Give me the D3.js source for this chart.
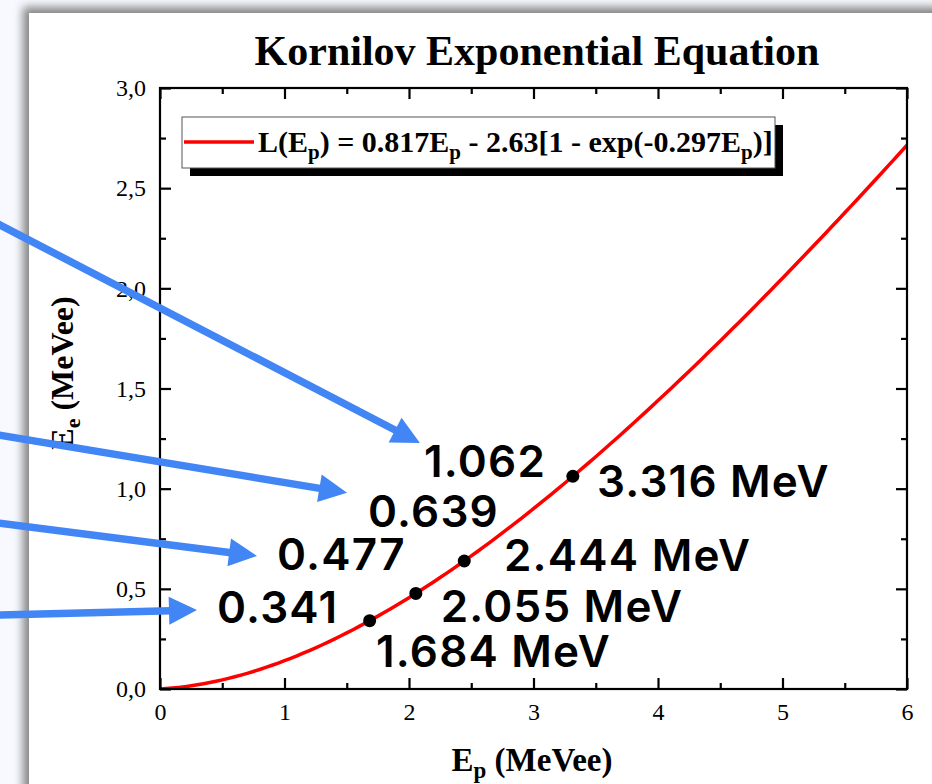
<!DOCTYPE html>
<html>
<head>
<meta charset="utf-8">
<script src="https://cdn.jsdelivr.net/npm/d3@7"></script>
<style>
  html, body { margin: 0; padding: 0; background: #f7f9fe; }
  svg { display: block; }
</style>
</head>
<body>
<svg id="chart" width="932" height="784"></svg>
<script>
// Fit coefficients of L(Ep) = a*Ep - b*[1 - exp(-c*Ep)]
const fitCoefficients = [0.817, 2.63, 0.297];
// Sample grid for the fitted curve (MeV)
const curveEnergies = d3.range(0, 6.0001, 0.05);

// Marked proton energies and the corresponding light output
const protonEnergies = [1.684, 2.055, 2.444, 3.316];
const lightOutputs = [0.341, 0.477, 0.639, 1.062];
const energyLabels = ["1.684 MeV", "2.055 MeV", "2.444 MeV", "3.316 MeV"];
const outputLabels = ["0.341", "0.477", "0.639", "1.062"];

// Annotation anchors, in axis units
const energyLabelAnchors = [[1.735, 0.110], [2.255, 0.334], [2.763, 0.589], [3.510, 0.959]];
const outputLabelAnchors = [[0.458, 0.330], [0.940, 0.594], [1.671, 0.809], [2.121, 1.058]];
const arrowStarts = [[-1.3, 0.369], [-1.3, 0.829], [-1.3, 1.268], [-1.3, 2.321]];
const arrowEnds = [[0.297, 0.394], [0.779, 0.664], [1.502, 0.979], [2.088, 1.228]];

// Axis ticks
const xMajorTicks = [0, 1, 2, 3, 4, 5, 6];
const xMinorTicks = [0.5, 1.5, 2.5, 3.5, 4.5, 5.5];
const yMajorTicks = [0, 0.5, 1.0, 1.5, 2.0, 2.5, 3.0];
const yMinorTicks = [0.25, 0.75, 1.25, 1.75, 2.25, 2.75];

const svg = d3.select("#chart");
const plot = { left: 160, right: 907, top: 88, bottom: 689 };

const x = d3.scaleLinear().domain([0, 6]).range([plot.left, plot.right]);
const y = d3.scaleLinear().domain([0, 3]).range([plot.bottom, plot.top]);

const serif = "'Liberation Serif', 'Times New Roman', serif";
const sans = "Inter, 'Noto Sans', sans-serif";

// ---- page panel with soft shadow ----
const defs = svg.append("defs");
const blur = defs.append("filter").attr("id", "panelShadow")
  .attr("x", "-10%").attr("y", "-10%").attr("width", "120%").attr("height", "120%");
blur.append("feGaussianBlur").attr("stdDeviation", 5);

svg.append("rect").attr("x", 23).attr("y", 7).attr("width", 1000).attr("height", 900)
  .attr("fill", "#858585").attr("filter", "url(#panelShadow)");
svg.append("rect").attr("x", 29).attr("y", 13).attr("width", 1000).attr("height", 900)
  .attr("fill", "#ffffff");

// ---- title ----
svg.append("text")
  .attr("x", 537).attr("y", 65)
  .attr("text-anchor", "middle")
  .attr("font-family", serif).attr("font-weight", "bold").attr("font-size", 42)
  .attr("fill", "#000")
  .text("Kornilov Exponential Equation");

// ---- fitted curve ----
const [a, b, c] = fitCoefficients;
const L = e => a * e - b * (1 - Math.exp(-c * e));
const line = d3.line().x(d => x(d)).y(d => y(L(d)));

const clip = defs.append("clipPath").attr("id", "plotClip");
clip.append("rect").attr("x", plot.left).attr("y", plot.top)
  .attr("width", plot.right - plot.left).attr("height", plot.bottom - plot.top);

svg.append("path")
  .datum(curveEnergies)
  .attr("clip-path", "url(#plotClip)")
  .attr("d", line)
  .attr("fill", "none")
  .attr("stroke", "#ff0000")
  .attr("stroke-width", 3.5);

// ---- axes (ticks pointing inward on all four sides) ----
const axisStroke = 2.2;
function styleAxis(g) {
  g.select(".domain").remove();
  g.selectAll(".tick line").attr("stroke", "#000").attr("stroke-width", axisStroke);
  g.selectAll(".tick text").attr("font-family", serif).attr("font-size", 24).attr("fill", "#000");
}
const fmtY = d => d3.format(".1f")(d).replace(".", ",");

svg.append("g").attr("transform", `translate(0,${plot.bottom})`)
  .call(d3.axisBottom(x).tickValues(xMajorTicks).tickSizeInner(-11).tickSizeOuter(0).tickPadding(14).tickFormat(d3.format("d")))
  .call(styleAxis);
svg.append("g").attr("transform", `translate(0,${plot.bottom})`)
  .call(d3.axisBottom(x).tickValues(xMinorTicks).tickSizeInner(-6).tickSizeOuter(0).tickFormat(""))
  .call(styleAxis);
svg.append("g").attr("transform", `translate(0,${plot.top})`)
  .call(d3.axisTop(x).tickValues(xMajorTicks).tickSizeInner(-11).tickSizeOuter(0).tickFormat(""))
  .call(styleAxis);
svg.append("g").attr("transform", `translate(0,${plot.top})`)
  .call(d3.axisTop(x).tickValues(xMinorTicks).tickSizeInner(-6).tickSizeOuter(0).tickFormat(""))
  .call(styleAxis);

svg.append("g").attr("transform", `translate(${plot.left},0)`)
  .call(d3.axisLeft(y).tickValues(yMajorTicks).tickSizeInner(-11).tickSizeOuter(0).tickPadding(14).tickFormat(fmtY))
  .call(styleAxis);
svg.append("g").attr("transform", `translate(${plot.left},0)`)
  .call(d3.axisLeft(y).tickValues(yMinorTicks).tickSizeInner(-6).tickSizeOuter(0).tickFormat(""))
  .call(styleAxis);
svg.append("g").attr("transform", `translate(${plot.right},0)`)
  .call(d3.axisRight(y).tickValues(yMajorTicks).tickSizeInner(-11).tickSizeOuter(0).tickFormat(""))
  .call(styleAxis);
svg.append("g").attr("transform", `translate(${plot.right},0)`)
  .call(d3.axisRight(y).tickValues(yMinorTicks).tickSizeInner(-6).tickSizeOuter(0).tickFormat(""))
  .call(styleAxis);

// plot frame
svg.append("rect")
  .attr("x", plot.left).attr("y", plot.top)
  .attr("width", plot.right - plot.left).attr("height", plot.bottom - plot.top)
  .attr("fill", "none").attr("stroke", "#000").attr("stroke-width", axisStroke);

// ---- axis titles ----
const xTitle = svg.append("text")
  .attr("x", 532).attr("y", 771)
  .attr("text-anchor", "middle")
  .attr("font-family", serif).attr("font-weight", "bold").attr("font-size", 33)
  .attr("fill", "#000");
xTitle.append("tspan").text("E");
xTitle.append("tspan").attr("font-size", 23).attr("dy", 7).text("p");
xTitle.append("tspan").attr("dy", -7).text(" (MeVee)");

const yTitle = svg.append("text")
  .attr("transform", "translate(73,373) rotate(-90)")
  .attr("text-anchor", "middle")
  .attr("font-family", serif).attr("font-weight", "bold").attr("font-size", 32)
  .attr("fill", "#000");
yTitle.append("tspan").text("E");
yTitle.append("tspan").attr("font-size", 22).attr("dy", 7).text("e");
yTitle.append("tspan").attr("dy", -7).text(" (MeVee)");

// ---- legend ----
const lg = { x: 182, y: 117, w: 593, h: 51 };
svg.append("rect").attr("x", lg.x + 8).attr("y", lg.y + 8).attr("width", lg.w).attr("height", lg.h).attr("fill", "#000");
svg.append("rect").attr("x", lg.x).attr("y", lg.y).attr("width", lg.w).attr("height", lg.h)
  .attr("fill", "#fff").attr("stroke", "#555").attr("stroke-width", 1);
svg.append("line").attr("x1", lg.x + 2).attr("x2", lg.x + 72).attr("y1", 142).attr("y2", 142)
  .attr("stroke", "#ff0000").attr("stroke-width", 3.5);
const lt = svg.append("text")
  .attr("x", lg.x + 76).attr("y", 152)
  .attr("font-family", serif).attr("font-weight", "bold").attr("font-size", 30)
  .attr("fill", "#000");
const sub = (t) => { lt.append("tspan").attr("font-size", 21).attr("dy", 7).text(t); };
const norm = (t) => { lt.append("tspan").attr("dy", -7).text(t); };
lt.append("tspan").text("L(E");
sub("p");
norm(`) = ${a}E`);
sub("p");
norm(` - ${b}[1 - exp(-${c}E`);
sub("p");
norm(")]");

// ---- marked points ----
svg.selectAll("circle.pt")
  .data(protonEnergies)
  .join("circle")
  .attr("class", "pt")
  .attr("cx", d => x(d))
  .attr("cy", (d, i) => y(lightOutputs[i]))
  .attr("r", 6.5)
  .attr("fill", "#000");

// ---- annotation labels ----
const labelFont = { family: sans, size: 44, weight: 600, spacing: 1.2 };
function drawLabels(cls, texts, anchors) {
  svg.selectAll(`text.${cls}`)
    .data(texts)
    .join("text")
    .attr("class", cls)
    .attr("x", (d, i) => x(anchors[i][0]))
    .attr("y", (d, i) => y(anchors[i][1]))
    .attr("font-family", labelFont.family).attr("font-size", labelFont.size)
    .attr("font-weight", labelFont.weight).attr("letter-spacing", labelFont.spacing)
    .attr("fill", "#000")
    .text(d => d);
}
drawLabels("elab", energyLabels, energyLabelAnchors);
drawLabels("olab", outputLabels, outputLabelAnchors);

// ---- blue pointer arrows ----
const arrowColor = "#4285f4";
const headLen = 28, headHalf = 14;
arrowStarts.forEach((s, i) => {
  const x0 = x(s[0]), y0 = y(s[1]);
  const x1 = x(arrowEnds[i][0]), y1 = y(arrowEnds[i][1]);
  const ang = Math.atan2(y1 - y0, x1 - x0);
  const bx = x1 - headLen * Math.cos(ang), by = y1 - headLen * Math.sin(ang);
  const nx = -Math.sin(ang), ny = Math.cos(ang);
  svg.append("line")
    .attr("x1", x0).attr("y1", y0).attr("x2", bx + 2 * Math.cos(ang)).attr("y2", by + 2 * Math.sin(ang))
    .attr("stroke", arrowColor).attr("stroke-width", 7.5);
  svg.append("path")
    .attr("d", `M${x1},${y1}L${bx + nx * headHalf},${by + ny * headHalf}L${bx - nx * headHalf},${by - ny * headHalf}Z`)
    .attr("fill", arrowColor);
});
</script>
</body>
</html>
